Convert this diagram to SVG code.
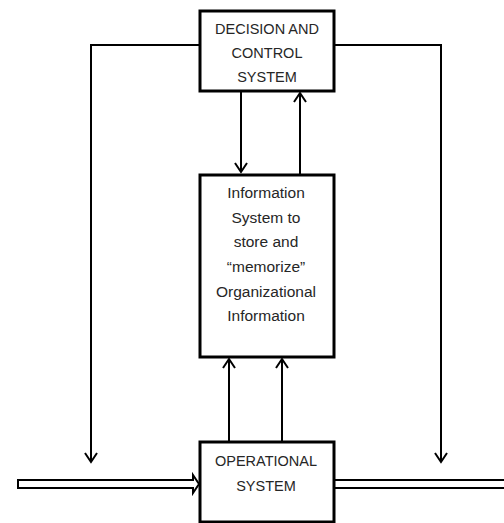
<svg xmlns="http://www.w3.org/2000/svg" width="504" height="523" viewBox="0 0 504 523">
<style>
.box{fill:#fff;stroke:#000;stroke-width:3}
.ln{fill:none;stroke:#000;stroke-width:2}
.ah{fill:none;stroke:#000;stroke-width:2;stroke-linejoin:miter}
.t{font-family:"Liberation Sans",Arial,sans-serif;font-size:14.5px;fill:#262626;text-anchor:middle}
.m{font-size:15.5px}
</style>
<rect width="504" height="523" fill="#fff"/>
<g id="connectors">
<line class="ln" x1="241" y1="92" x2="241" y2="172"/>
<polyline class="ah" points="235,163 241,172 247,163"/>
<line class="ln" x1="300" y1="174" x2="300" y2="93"/>
<polyline class="ah" points="294,102 300,93 306,102"/>
<line class="ln" x1="229" y1="441" x2="229" y2="359"/>
<polyline class="ah" points="223,368 229,359 235,368"/>
<line class="ln" x1="282" y1="441" x2="282" y2="359"/>
<polyline class="ah" points="276,368 282,359 288,368"/>
<path class="ln" d="M199,45 H91 V462"/>
<polyline class="ah" points="85,453 91,462 97,453"/>
<path class="ln" d="M334,45 H441 V462"/>
<polyline class="ah" points="435,453 441,462 447,453"/>
<path d="M18,480 H193 V475 L199,484 L193,493 V488 H18 Z" fill="#fff" stroke="#000" stroke-width="2"/>
<path d="M335,480 H506 M335,488 H506" fill="none" stroke="#000" stroke-width="2"/>
</g>
<g id="decision">
<rect class="box" x="200" y="11" width="134" height="80"/>
<text class="t" x="267" y="34">DECISION AND</text>
<text class="t" x="267" y="58">CONTROL</text>
<text class="t" x="267" y="82">SYSTEM</text>
</g>
<g id="information">
<rect class="box" x="200" y="175" width="134" height="182"/>
<text class="t m" x="266" y="198">Information</text>
<text class="t m" x="266" y="223">System to</text>
<text class="t m" x="266" y="247">store and</text>
<text class="t m" x="266" y="272">“memorize”</text>
<text class="t m" x="266" y="297">Organizational</text>
<text class="t m" x="266" y="321">Information</text>
</g>
<g id="operational">
<rect class="box" x="200" y="442" width="134" height="80"/>
<text class="t" x="266" y="466">OPERATIONAL</text>
<text class="t" x="266" y="491">SYSTEM</text>
</g>
</svg>
